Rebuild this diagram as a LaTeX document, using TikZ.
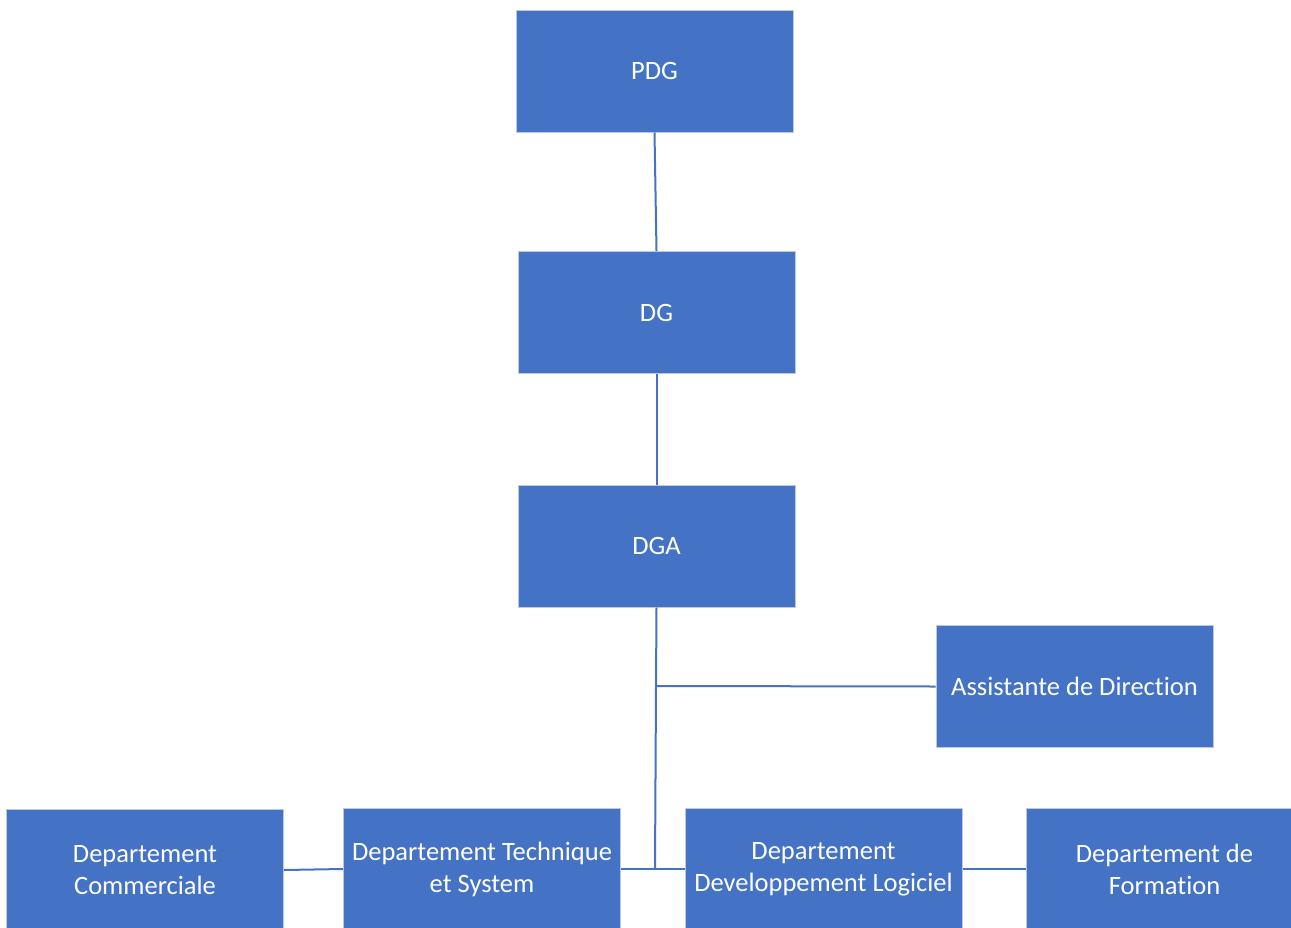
\documentclass[tikz,border=0pt]{standalone}
\usepackage{fontspec}
\setmainfont[Ligatures=NoCommon]{Carlito}
\definecolor{boxblue}{HTML}{4472C4}
\definecolor{boxedge}{HTML}{BCC8DE}
\begin{document}
\begin{tikzpicture}[x=1pt,y=-1pt,
  orgbox/.style={rectangle, fill=boxblue, draw=boxedge, line width=1pt,
    minimum width=277pt, minimum height=122pt, inner sep=0pt, text=white,
    align=center, font=\fontsize{26.5}{32}\selectfont},
  link/.style={draw=boxblue, line width=2pt}]
\useasboundingbox (0,0) rectangle (1291,927);
\clip (0,0) rectangle (1291,927);
\node[orgbox] (pdg) at (654.5,71) {PDG};
\node[orgbox] (dg) at (656.5,312.5) {DG};
\node[orgbox] (dga) at (656.5,546) {DGA};
\node[orgbox] (asst) at (1074.5,686.5) {Assistante de Direction};
\node[orgbox] (com) at (145,870) {Departement\\Commerciale};
\node[orgbox] (tech) at (482,869) {Departement Technique\\et System};
\node[orgbox] (dev) at (823.5,869) {Departement\\Developpement Logiciel};
\node[orgbox] (form) at (1164.5,869) {Departement de\\Formation};
\coordinate (j1) at (656,686);
\coordinate (j2) at (655,869);
\draw[link] (pdg.south) -- (dg.north);
\draw[link] (dg.south) -- (dga.north);
\draw[link] (dga.south) -- (j1) -- (j2);
\draw[link] (j1) -- (asst.west);
\draw[link] (tech.east) -- (j2) -- (dev.west);
\draw[link] (com.east) -- (tech.west);
\draw[link] (dev.east) -- (form.west);
\end{tikzpicture}
\end{document}
